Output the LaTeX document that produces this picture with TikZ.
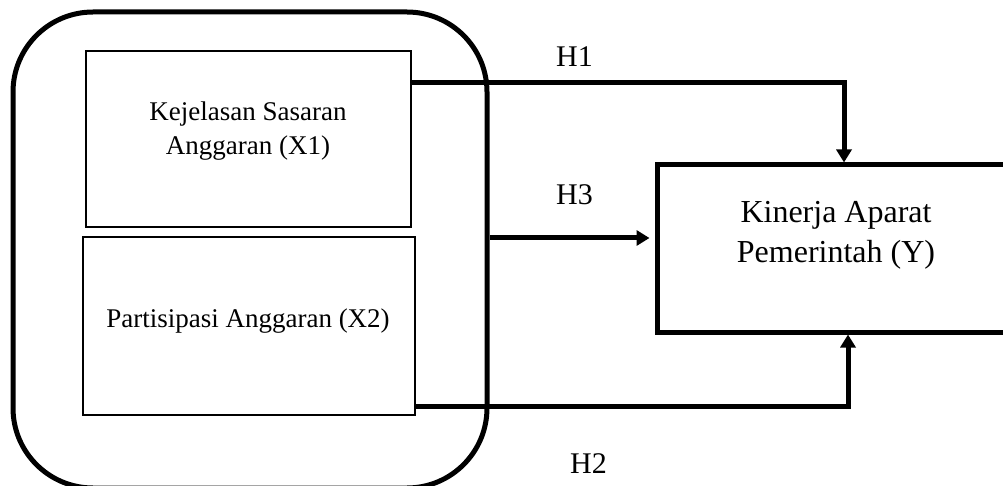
\documentclass[tikz,border=0pt]{standalone}
\usepackage{fontspec}
\setmainfont{Liberation Serif}
\usetikzlibrary{arrows.meta}
\begin{document}
\begin{tikzpicture}[x=1pt,y=-1pt,
  thinbox/.style={draw, line width=1.3pt, inner sep=0pt},
  thickbox/.style={draw, line width=5pt, inner sep=0pt},
  link/.style={line width=5pt, -{Triangle[length=13pt,width=15pt]}},
  smalltext/.style={font=\fontsize{27}{34}\selectfont, align=center},
  bigtext/.style={font=\fontsize{32}{40}\selectfont, align=center},
  hlabel/.style={font=\fontsize{30}{36}\selectfont, anchor=base, inner sep=0pt}]
\useasboundingbox (0,0) rectangle (1003,486);
\clip (0,0) rectangle (1003,486);

% group of independent variables
\node[thickbox, rounded corners=80pt, minimum width=474pt, minimum height=476pt] (G) at (250,250) {};
\node[thinbox, minimum width=325pt, minimum height=176pt] (X1) at (248.5,139) {};
\node[thinbox, minimum width=332pt, minimum height=178pt] (X2) at (249,326) {};

% dependent variable
\node[thickbox, minimum width=378pt, minimum height=167pt] (Y) at (846,248.5) {};

% box texts
\node[smalltext] (tx1) at (248,131.5) {Kejelasan Sasaran\\Anggaran (X1)};
\node[smalltext, anchor=base] (tx2) at (248,327) {Partisipasi Anggaran (X2)};
\node[bigtext] (ty) at (836,235) {Kinerja Aparat\\Pemerintah (Y)};

% hypotheses
\draw[link] ([yshift=56pt]X1.east) -| ([xshift=-2pt]Y.north);
\draw[link, shorten >=5pt] ([yshift=12pt]G.east) -- ([yshift=10.5pt]Y.west);
\draw[link] ([yshift=-80pt]X2.east) -| ([xshift=2pt]Y.south);

\node[hlabel] (h1) at (574.5,67) {H1};
\node[hlabel] (h3) at (574.5,205) {H3};
\node[hlabel] (h2) at (588.5,473) {H2};
\end{tikzpicture}
\end{document}
